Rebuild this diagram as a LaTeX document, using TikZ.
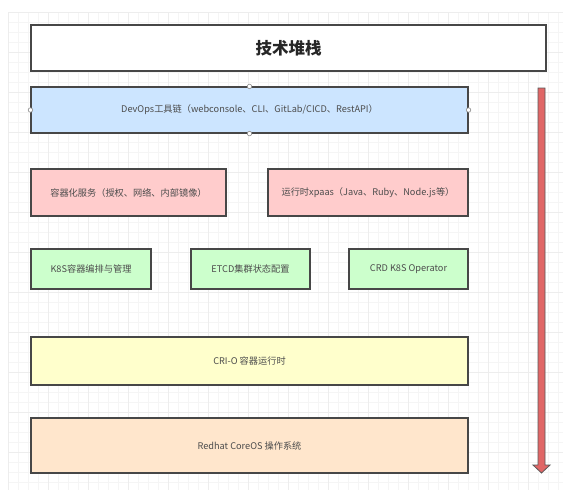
\documentclass[tikz,border=0pt]{standalone}
\usepackage{fontspec}
\setmainfont{Noto Sans CJK SC}
\begin{document}
\begin{tikzpicture}[x=1pt,y=-1pt,
  box/.style={draw=black!72, line width=1.1pt, rectangle, inner sep=0pt,
    font=\fontsize{9.2}{11}\selectfont, text=black!70},
  handle/.style={circle, draw=black!45, fill=white, line width=0.6pt, inner sep=0pt, minimum size=4.5pt}]
\useasboundingbox (0,0) rectangle (563,496);
\fill[white] (0,0) rectangle (563,496);
% faint grid
\foreach \gx in {8,18,...,558} \draw[black!4, line width=0.4pt] (\gx,12) -- (\gx,490);
\foreach \gy in {12,22,...,490} \draw[black!4, line width=0.4pt] (8,\gy) -- (563,\gy);
\foreach \gx in {8,48,...,558} \draw[black!7, line width=0.5pt] (\gx,12) -- (\gx,490);
\foreach \gy in {12,52,...,490} \draw[black!7, line width=0.5pt] (8,\gy) -- (563,\gy);

\definecolor{cblue}{HTML}{CCE5FF}
\definecolor{cpink}{HTML}{FFCCCC}
\definecolor{cgreen}{HTML}{CCFFCC}
\definecolor{cyellow}{HTML}{FFFFCC}
\definecolor{corange}{HTML}{FFE6CC}
\definecolor{cred}{HTML}{E06666}

\node[box, fill=white, minimum width=515, minimum height=46,
  font=\fontsize{16.5}{19}\selectfont\bfseries, text=black!85] (title) at (288.5,48) {技术堆栈};
\node[box, fill=cblue, minimum width=437, minimum height=46] (devops) at (249.5,110)
  {DevOps工具链（webconsole、CLI、GitLab/CICD、RestAPI）};
\node[box, fill=cpink, minimum width=195, minimum height=47] (svc) at (128.5,192.5)
  {容器化服务（授权、网络、内部镜像）};
\node[box, fill=cpink, minimum width=200, minimum height=47] (rt) at (368,192.5)
  {运行时xpaas（Java、Ruby、Node.js等）};
\node[box, fill=cgreen, minimum width=120, minimum height=40] (k8s) at (91,269)
  {K8S容器编排与管理};
\node[box, fill=cgreen, minimum width=119, minimum height=40] (etcd) at (250.5,269)
  {ETCD集群状态配置};
\node[box, fill=cgreen, minimum width=119, minimum height=40] (crd) at (408.5,269)
  {CRD K8S Operator};
\node[box, fill=cyellow, minimum width=437, minimum height=48] (crio) at (249.5,361)
  {CRI-O 容器运行时};
\node[box, fill=corange, minimum width=437, minimum height=55] (os) at (249.5,445.5)
  {Redhat CoreOS 操作系统};

% selection handles on DevOps box
\foreach \a in {north,south,east,west}
  \node[handle] (h-\a) at (devops.\a) {};

% red block arrow
\coordinate (atop) at (541.5,88);
\coordinate (abot) at (541.5,473);
\draw[fill=cred, draw=black!65, line width=0.8pt, line join=miter]
  ([xshift=-3.5]atop) -- ([xshift=3.5]atop) -- ([xshift=3.5,yshift=8]abot)
  -- ([xshift=8.5,yshift=8]abot) -- (abot) -- ([xshift=-8.5,yshift=8]abot)
  -- ([xshift=-3.5,yshift=8]abot) -- cycle;
\end{tikzpicture}
\end{document}
